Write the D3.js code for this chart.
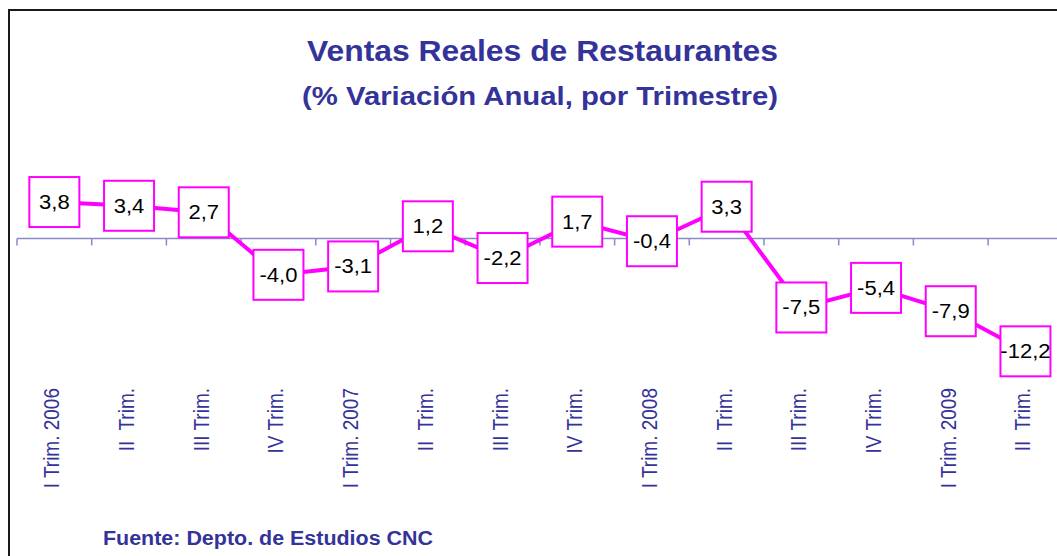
<!DOCTYPE html>
<html>
<head>
<meta charset="utf-8">
<script src="https://cdn.jsdelivr.net/npm/d3@7"></script>
<style>
  html, body { margin: 0; padding: 0; background: #fff; }
  svg { display: block; }
  text { font-family: Arial, "Liberation Sans", Helvetica, sans-serif; }
</style>
</head>
<body>
<svg id="chart" width="1057" height="556"></svg>
<script>
// ---- Data ----
const categories = [
  "I Trim. 2006", "II  Trim.", "III Trim.", "IV Trim.",
  "I Trim. 2007", "II  Trim.", "III Trim.", "IV Trim.",
  "I Trim. 2008", "II  Trim.", "III Trim.", "IV Trim.",
  "I Trim. 2009", "II  Trim."
];
const values = [3.8, 3.4, 2.7, -4.0, -3.1, 1.2, -2.2, 1.7, -0.4, 3.3, -7.5, -5.4, -7.9, -12.2];
const titleLines = ["Ventas Reales de Restaurantes", "(% Variación Anual, por Trimestre)"];
const sourceText = "Fuente: Depto. de Estudios CNC";

// ---- Styles ----
const blue = "#333399";
const magenta = "#FF00FF";
const axisColor = "#8A8AC4";
const sx = 1.13; // horizontal stretch of the reference rendering

const svg = d3.select("#chart");
const data = categories.map((c, i) => ({ key: i, label: c, value: values[i] }));

// Frame (top and left borders visible)
svg.append("rect")
  .attr("x", 9).attr("y", 10).attr("width", 1200).attr("height", 700)
  .attr("fill", "none").attr("stroke", "#1a1a1a").attr("stroke-width", 2);

// Titles
const titleSpecs = [
  { text: titleLines[0], y: 61, size: 29.5, len: 471, cx: 542.5 },
  { text: titleLines[1], y: 104.5, size: 26.5, len: 476, cx: 540 }
];
svg.selectAll("text.title").data(titleSpecs).enter().append("text")
  .attr("class", "title")
  .attr("x", d => d.cx - d.len / 2).attr("y", d => d.y)
  .attr("textLength", d => d.len).attr("lengthAdjust", "spacingAndGlyphs")
  .attr("font-size", d => d.size).attr("font-weight", "bold")
  .attr("fill", blue).text(d => d.text);

// Scales
const x = d3.scaleBand().domain(data.map(d => d.key)).range([17, 17 + 74.7 * 14]).padding(0);
const y = d3.scaleLinear().domain([-15, 5]).range([237.5 + 15 * 9.33, 237.5 - 5 * 9.33]);
const cx = d => x(d.key) + x.bandwidth() / 2;

// Axis line at zero with downward ticks at band boundaries
const axisG = svg.append("g");
axisG.append("line")
  .attr("x1", x.range()[0]).attr("x2", 1057)
  .attr("y1", y(0) + 1).attr("y2", y(0) + 1)
  .attr("stroke", axisColor).attr("stroke-width", 1.5);
axisG.selectAll("line.tick").data(data).enter().append("line")
  .attr("class", "tick")
  .attr("x1", d => x(d.key)).attr("x2", d => x(d.key))
  .attr("y1", y(0) + 1).attr("y2", y(0) + 8)
  .attr("stroke", axisColor).attr("stroke-width", 1.5);

// Category labels (rotated)
axisG.selectAll("text.cat").data(data).enter().append("text")
  .attr("class", "cat")
  .attr("transform", d => `translate(${cx(d) + 5},388) scale(${sx},1) rotate(-90)`)
  .attr("text-anchor", "end")
  .attr("font-size", 19)
  .attr("fill", blue)
  .style("white-space", "pre")
  .text(d => d.label);

// Line
const line = d3.line().x(d => cx(d)).y(d => y(d.value));
svg.append("path").datum(data)
  .attr("d", line)
  .attr("fill", "none").attr("stroke", magenta).attr("stroke-width", 4)
  .attr("stroke-linejoin", "round");

// Value boxes
const boxW = 50, boxH = 50;
const lab = svg.selectAll("g.lab").data(data).enter().append("g").attr("class", "lab")
  .attr("transform", d => `translate(${cx(d)},${y(d.value)})`);
lab.append("rect")
  .attr("x", -boxW / 2).attr("y", -boxH / 2).attr("width", boxW).attr("height", boxH)
  .attr("fill", "#fff").attr("stroke", magenta).attr("stroke-width", 2);
lab.append("text")
  .attr("transform", `scale(${sx},1)`)
  .attr("text-anchor", "middle").attr("y", 7)
  .attr("font-size", 19.5).attr("fill", "#000")
  .text(d => d3.format(".1f")(d.value).replace(".", ",").replace("−", "-"));

// Source
svg.append("text")
  .attr("x", 103).attr("y", 544.5)
  .attr("textLength", 330).attr("lengthAdjust", "spacingAndGlyphs")
  .attr("font-size", 19.5).attr("font-weight", "bold").attr("fill", blue)
  .text(sourceText);
</script>
</body>
</html>
